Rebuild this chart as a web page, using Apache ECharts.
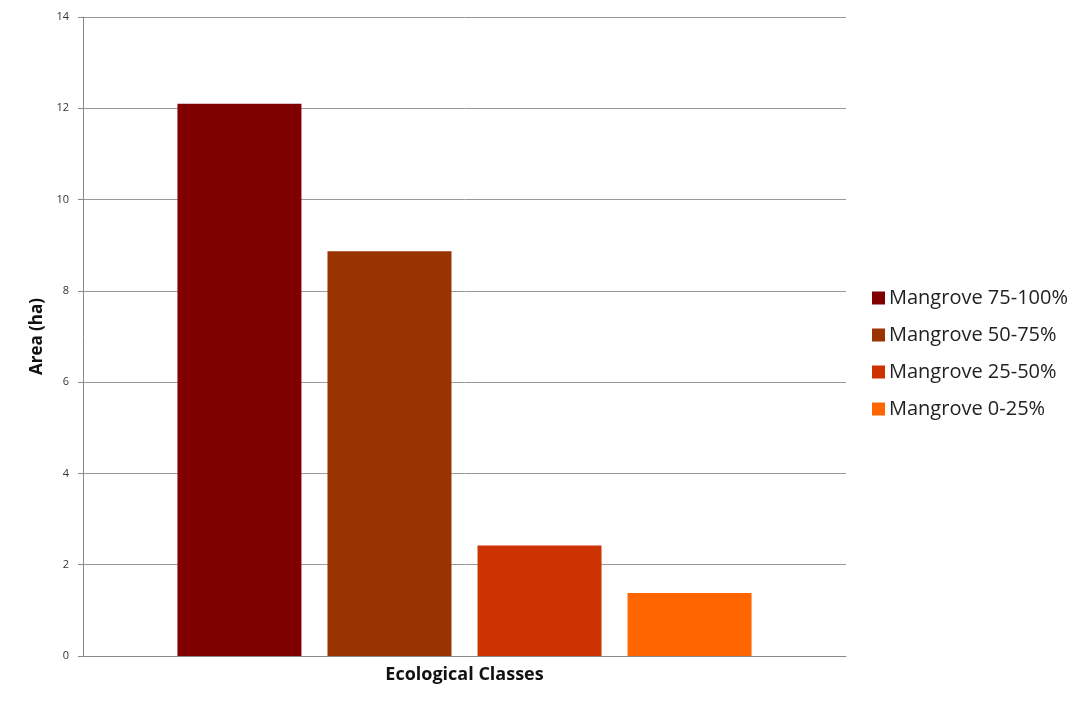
<!DOCTYPE html>
<html>
<head>
<meta charset="utf-8">
<script src="https://cdn.jsdelivr.net/npm/echarts@6/dist/echarts.min.js"></script>
<style>
  html, body { margin: 0; padding: 0; background: #fff; }
  #chart { width: 1089px; height: 704px; }
</style>
</head>
<body>
<div id="chart"></div>
<script>
// data
var categories = ['Ecological Classes'];
var seriesNames = ['Mangrove 75-100%', 'Mangrove 50-75%', 'Mangrove 25-50%', 'Mangrove 0-25%'];
var seriesValues = [12.1, 8.87, 2.42, 1.38];
var seriesColors = ['#800000', '#993300', '#CC3300', '#FF6600'];

var myChart = echarts.init(document.getElementById('chart'));

var series = [];
for (var i = 0; i < seriesNames.length; i++) {
    series.push({
        name: seriesNames[i],
        type: 'bar',
        data: [seriesValues[i]],
        barWidth: 124,
        barGap: '21%',
        itemStyle: { color: seriesColors[i] }
    });
}

var option = {
    animation: false,
    textStyle: { fontFamily: 'Open Sans' },
    grid: { left: 83, right: 243, top: 17, bottom: 48 },
    legend: {
        orient: 'vertical',
        left: 872,
        top: 288,
        padding: 0,
        icon: 'rect',
        itemWidth: 13,
        itemHeight: 13,
        itemGap: 17,
        textStyle: { fontSize: 20, color: '#222', fontFamily: 'Open Sans', padding: [0, 0, 0, -1] },
        data: seriesNames
    },
    xAxis: {
        type: 'category',
        data: categories,
        name: 'Ecological Classes',
        nameLocation: 'middle',
        nameGap: 10,
        nameTextStyle: { fontSize: 18, fontWeight: 'bold', color: '#111' },
        axisLabel: { show: false },
        axisTick: { show: false },
        axisLine: { lineStyle: { color: '#888' } }
    },
    yAxis: {
        type: 'value',
        min: 0,
        max: 14,
        interval: 2,
        name: 'Area (ha)',
        nameLocation: 'middle',
        nameGap: 36,
        nameTextStyle: { fontSize: 17, fontWeight: 'bold', color: '#111' },
        axisLine: { show: true, lineStyle: { color: '#888' } },
        axisTick: { show: true, length: 5, lineStyle: { color: '#888' } },
        axisLabel: { fontSize: 11, color: '#333', margin: 14 },
        splitLine: { lineStyle: { color: '#999' } }
    },
    series: series
};

myChart.setOption(option);
</script>
</body>
</html>
